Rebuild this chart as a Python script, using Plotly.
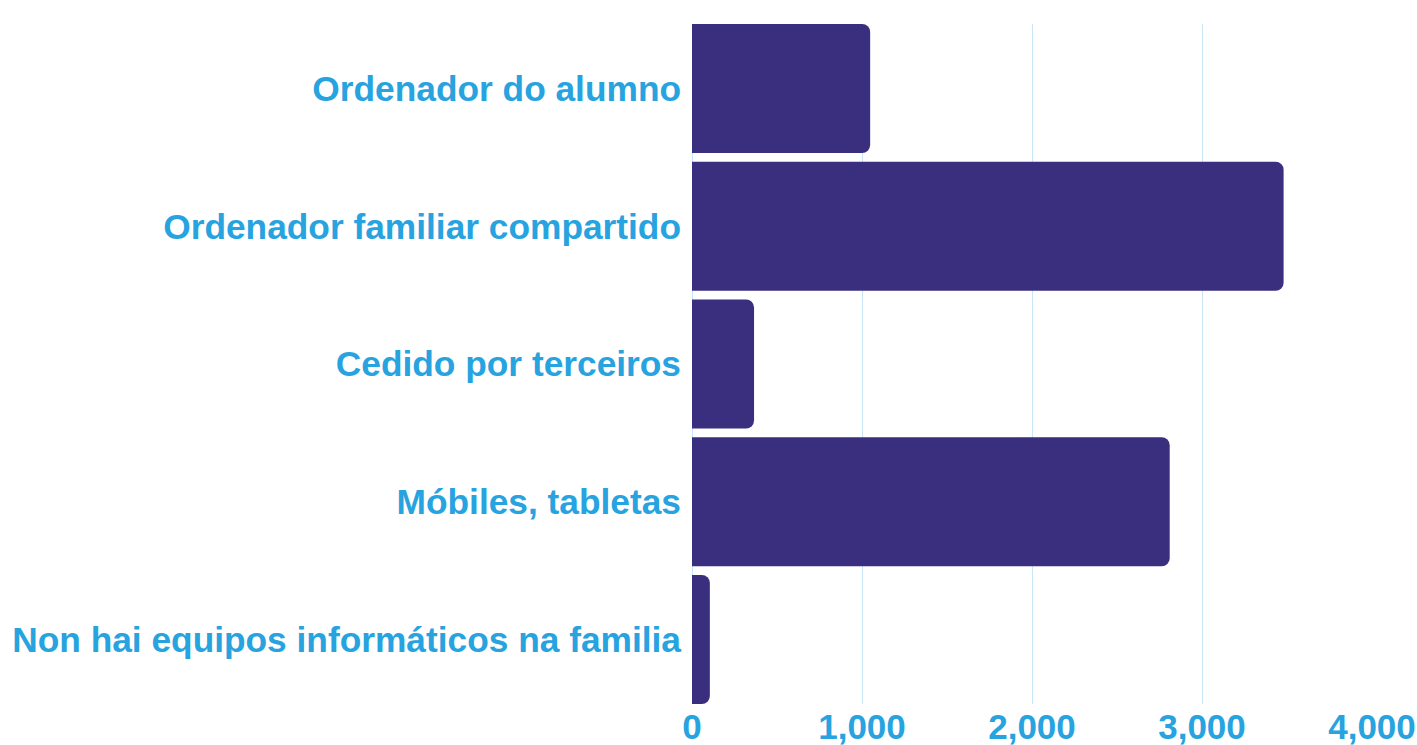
import plotly.graph_objects as go

categories = [
    "Ordenador do alumno",
    "Ordenador familiar compartido",
    "Cedido por terceiros",
    "Móbiles, tabletas",
    "Non hai equipos informáticos na familia",
]
values = [1048, 3480, 365, 2810, 105]
tick_vals = [0, 1000, 2000, 3000, 4000]

bar_color = "#3a2f7e"
text_color = "#27a3e0"
grid_color = "#c8e6f6"
font_family = "Liberation Sans, Arial, sans-serif"
bar_gap = 0.063

fig = go.Figure(
    go.Bar(
        x=values,
        y=categories,
        orientation="h",
        marker=dict(color=bar_color, line=dict(width=0), cornerradius=8),
        hoverinfo="x+y",
    )
)

fig.update_layout(
    width=1417,
    height=745,
    margin=dict(l=692, r=45, t=24, b=41, autoexpand=False),
    paper_bgcolor="white",
    plot_bgcolor="white",
    bargap=bar_gap,
    showlegend=False,
    font=dict(family=font_family, size=35, color=text_color),
)
fig.update_xaxes(
    range=[0, 4000],
    tickvals=tick_vals,
    tickformat=",d",
    showgrid=True,
    gridcolor=grid_color,
    gridwidth=1,
    zeroline=True,
    zerolinecolor=grid_color,
    zerolinewidth=1,
    showline=False,
    ticks="",
    ticklabelstandoff=-1,
    tickfont=dict(family=font_family, size=35, color=text_color, weight="bold"),
)
n = len(categories)
fig.update_yaxes(
    categoryorder="array",
    categoryarray=categories[::-1],
    range=[-0.5 + bar_gap / 2, n - 0.5 - bar_gap / 2],
    showgrid=False,
    zeroline=False,
    showline=False,
    ticks="",
    ticklabelstandoff=10,
    tickfont=dict(family=font_family, size=35.3, color=text_color, weight="bold"),
)

fig.write_html(
    "out.html",
    config={"displayModeBar": False},
    post_script="document.body.style.margin='0';document.body.style.overflow='hidden';",
)
